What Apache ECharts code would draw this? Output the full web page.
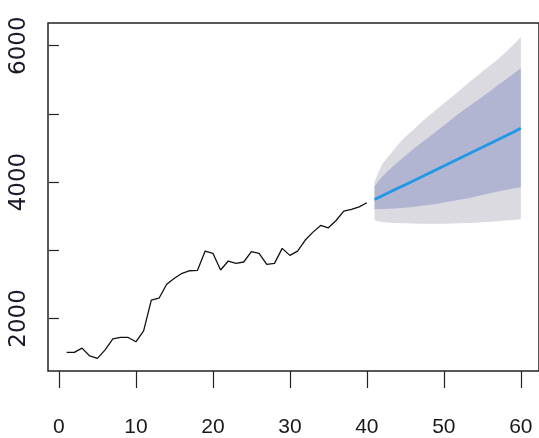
<!DOCTYPE html>
<html>
<head>
<meta charset="utf-8">
<script src="https://cdn.jsdelivr.net/npm/echarts@6/dist/echarts.min.js"></script>
<style>
  html, body { margin: 0; padding: 0; background: #fff; }
  #forecast-chart { width: 539px; height: 438px; }
</style>
</head>
<body>
<div id="forecast-chart"></div>
<script>
// observed series
const histTime = [1,2,3,4,5,6,7,8,9,10,11,12,13,14,15,16,17,18,19,20,
  21,22,23,24,25,26,27,28,29,30,31,32,33,34,35,36,37,38,39,40];
const histValue = [1503,1503,1566,1450,1415,1540,1700,1722,1722,1658,
  1819,2268,2297,2501,2590,2662,2700,2706,2988,2955,
  2711,2842,2808,2828,2979,2955,2794,2808,3028,2925,
  2988,3150,3266,3364,3330,3437,3573,3598,3637,3696];

// forecast horizon
const fcTime = [41,42,43,44,45,46,47,48,49,50,51,52,53,54,55,56,57,58,59,60];
const fcMean = [3744,3800,3853,3908,3962,4016,4070,4124,4180,4236,
  4290,4345,4400,4455,4510,4566,4620,4676,4732,4790];
const lo80 = [3600,3605,3610,3615,3625,3635,3650,3665,3680,3700,
  3720,3740,3760,3785,3810,3835,3860,3885,3905,3925];
const hi80 = [3940,4080,4190,4290,4385,4480,4570,4655,4740,4830,
  4920,5010,5090,5170,5250,5330,5420,5500,5585,5670];
const lo95 = [3440,3415,3405,3400,3395,3392,3390,3390,3390,3390,
  3392,3395,3400,3405,3410,3418,3425,3435,3445,3455];
const hi95 = [4010,4270,4400,4545,4665,4765,4870,4970,5060,5155,
  5245,5340,5435,5530,5620,5710,5800,5900,6010,6125];

// ticks
const xTicks = [0,10,20,30,40,50,60];
const yTicks = [2000,3000,4000,5000,6000];
const yLabels = [2000,4000,6000];

function pairs(xs, ys) {
  return xs.map(function (x, i) { return [x, ys[i]]; });
}

function band(lo, hi, color) {
  return {
    type: 'custom',
    silent: true,
    z: 1,
    data: [[fcTime[0], lo[0]]],
    renderItem: function (params, api) {
      var pts = [];
      for (var i = 0; i < fcTime.length; i++) pts.push(api.coord([fcTime[i], hi[i]]));
      for (var j = fcTime.length - 1; j >= 0; j--) pts.push(api.coord([fcTime[j], lo[j]]));
      return { type: 'polygon', shape: { points: pts }, style: { fill: color } };
    }
  };
}

function plain(v) { return String(v); }

const chart = echarts.init(document.getElementById('forecast-chart'));
chart.setOption({
  animation: false,
  grid: {
    left: 48, top: 23, right: -3, bottom: 66,
    show: true, borderColor: '#222', borderWidth: 1.5, backgroundColor: 'transparent'
  },
  xAxis: {
    type: 'value', min: -1.42, max: 62.36,
    splitLine: { show: false },
    axisLine: { show: false },
    axisTick: { show: true, customValues: xTicks, length: 17, lineStyle: { color: '#222', width: 1.2 } },
    axisLabel: {
      customValues: xTicks, margin: 46, formatter: plain,
      fontFamily: "'Liberation Sans Narrow', 'Arial Narrow', 'Liberation Sans', sans-serif",
      fontSize: 21, color: '#1a1a1a'
    }
  },
  yAxis: {
    type: 'value', min: 1230, max: 6332,
    splitLine: { show: false },
    axisLine: { show: false },
    axisTick: { show: true, customValues: yTicks, length: 10, lineStyle: { color: '#222', width: 1.2 } },
    axisLabel: {
      customValues: yLabels, rotate: 90, margin: 17, formatter: plain,
      fontFamily: "'DejaVu Sans', Verdana, sans-serif",
      fontSize: 23, color: '#1a1a2a'
    }
  },
  series: [
    band(lo95, hi95, '#DADAE0'),
    band(lo80, hi80, '#B1B5D1'),
    {
      type: 'line', z: 3, symbol: 'none',
      data: pairs(histTime, histValue),
      lineStyle: { color: '#111', width: 1.3 }
    },
    {
      type: 'line', z: 4, symbol: 'none',
      data: pairs(fcTime, fcMean),
      lineStyle: { color: '#2297E6', width: 2.8 }
    }
  ]
});
</script>
</body>
</html>
